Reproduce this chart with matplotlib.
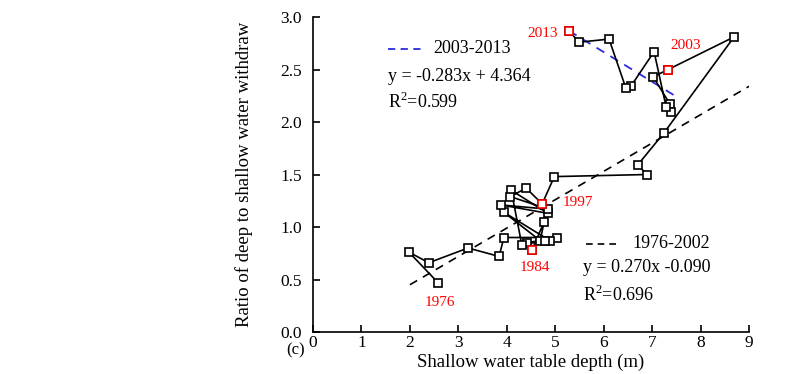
# Ratio of deep to shallow withdraw vs shallow water table depth, 1976-2013
import numpy as np
import matplotlib
matplotlib.use("Agg")
from matplotlib import pyplot as plt

years = list(range(1976, 2014))
depth = [2.58, 1.98, 2.39, 3.20, 3.84, 3.94, 5.04, 4.42, 4.52, 4.77,
         4.69, 3.94, 4.89, 4.79, 4.31, 4.09, 4.85, 3.88, 4.85, 4.07,
         4.40, 4.73, 4.98, 6.90, 6.70, 7.25, 8.69, 7.33, 7.02, 7.37,
         7.39, 7.29, 7.04, 6.56, 6.46, 6.11, 5.49, 5.28]
ratio = [0.47, 0.76, 0.66, 0.80, 0.72, 0.90, 0.90, 0.85, 0.78, 1.05,
         0.87, 1.14, 0.87, 0.87, 0.83, 1.35, 1.13, 1.21, 1.17, 1.29,
         1.37, 1.22, 1.48, 1.50, 1.59, 1.90, 2.81, 2.50, 2.43, 2.17,
         2.10, 2.14, 2.67, 2.34, 2.32, 2.79, 2.76, 2.87]

red_years = [1984, 1997, 2003, 2013]
year_labels = ["1976", "1984", "1997", "2003", "2013"]
label_pos = [(2.62, 0.28), (4.58, 0.61), (5.47, 1.23), (7.70, 2.73), (4.73, 2.84)]

# regression lines
fit_old = (0.270, -0.090)   # 1976-2002
fit_new = (-0.283, 4.364)   # 2003-2013
x_old = np.array([2.0, 9.0])
x_new = np.array([5.28, 7.5])

plt.rcParams['font.family'] = ['Liberation Serif', 'DejaVu Serif']
plt.rcParams['mathtext.fontset'] = 'custom'
plt.rcParams['mathtext.rm'] = 'Liberation Serif'

fig = plt.figure(figsize=(8.11, 3.74), dpi=100)
ax = fig.add_axes([0.386, 0.1123, 0.5376, 0.8422])

ax.plot(x_old, fit_old[0] * x_old + fit_old[1], color='black', ls=(0, (5, 4)), lw=1.2)
ax.plot(x_new, fit_new[0] * x_new + fit_new[1], color='#2b2bdc', ls=(0, (5, 4)), lw=1.3)

ax.plot(depth, ratio, color='black', lw=1.2, marker='s', ms=5.5,
        mfc='white', mec='black', mew=1.2, zorder=3)
rx = [depth[years.index(y)] for y in red_years]
ry = [ratio[years.index(y)] for y in red_years]
ax.plot(rx, ry, ls='none', marker='s', ms=5.5, mfc='white', mec='red', mew=1.2, zorder=4)

for t, (tx, ty) in zip(year_labels, label_pos):
    ax.text(tx, ty, t, color='red', fontsize=11, ha='center', va='center')

# legend-like annotations
ax.plot([1.55, 2.25], [2.70, 2.70], color='#2b2bdc', ls=(0, (4, 3)), lw=1.3)
ax.text(2.48, 2.70, "2003-2013", fontsize=13, va='center')
ax.text(1.55, 2.43, "y = -0.283x + 4.364", fontsize=13, va='center')
ax.text(1.55, 2.19, "R$^{2}$=0.599", fontsize=13, va='center')

ax.plot([5.64, 6.34], [0.84, 0.84], color='black', ls=(0, (4, 3)), lw=1.2)
ax.text(6.59, 0.84, "1976-2002", fontsize=13, va='center')
ax.text(5.57, 0.61, "y = 0.270x -0.090", fontsize=13, va='center')
ax.text(5.57, 0.35, "R$^{2}$=0.696", fontsize=13, va='center')

ax.set_xlim(0, 9)
ax.set_ylim(0, 3.0)
ax.set_xticks(range(0, 10))
ax.set_yticks(np.arange(0, 3.01, 0.5))
ax.set_yticklabels(["%.1f" % v for v in np.arange(0, 3.01, 0.5)])
ax.tick_params(direction='in', length=5, width=1.2, labelsize=12.5)
ax.tick_params(axis='y', pad=8)
ax.tick_params(axis='x', pad=2)
ax.spines['top'].set_visible(False)
ax.spines['right'].set_visible(False)
ax.spines['left'].set_linewidth(1.2)
ax.spines['bottom'].set_linewidth(1.2)

ax.set_xlabel("Shallow water table depth (m)", fontsize=13.5, labelpad=2)
ax.set_ylabel("Ratio of deep to shallow water withdraw", fontsize=13.5, labelpad=20)
fig.text(0.364, 0.064, "(c)", fontsize=12, ha='center', va='center')

fig.savefig("out.png", dpi=100)
